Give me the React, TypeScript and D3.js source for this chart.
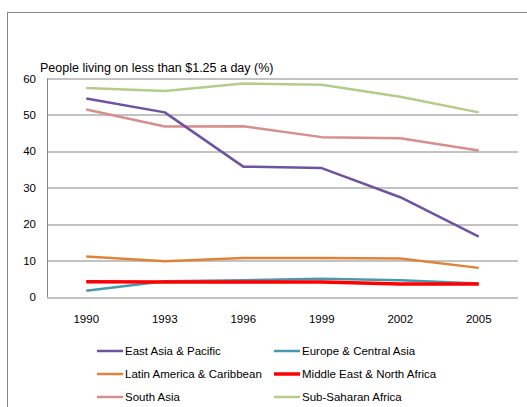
import { useEffect, useRef } from "react";
import * as d3 from "d3";

const years = ["1990", "1993", "1996", "1999", "2002", "2005"];
const yTicks = [0, 10, 20, 30, 40, 50, 60];

const eastAsia = [54.5, 50.7, 35.8, 35.4, 27.4, 16.6];
const europe = [1.7, 4.3, 4.6, 5.0, 4.6, 3.7];
const latinAmerica = [11.1, 9.8, 10.7, 10.7, 10.6, 8.0];
const middleEast = [4.2, 4.1, 4.1, 4.1, 3.6, 3.6];
const southAsia = [51.5, 46.8, 46.9, 43.9, 43.6, 40.2];
const subSaharan = [57.4, 56.6, 58.6, 58.3, 55.0, 50.7];

const seriesNames = [
  "East Asia & Pacific",
  "Europe & Central Asia",
  "Latin America & Caribbean",
  "Middle East & North Africa",
  "South Asia",
  "Sub-Saharan Africa",
];

type S = { name: string; color: string; width: number; values: number[] };

const series: S[] = [
  { name: seriesNames[0], color: "#6e54a0", width: 2.5, values: eastAsia },
  { name: seriesNames[1], color: "#4799ae", width: 2.5, values: europe },
  { name: seriesNames[2], color: "#df8339", width: 2.5, values: latinAmerica },
  { name: seriesNames[3], color: "#ff0000", width: 3.5, values: middleEast },
  { name: seriesNames[4], color: "#d68f8d", width: 2.5, values: southAsia },
  { name: seriesNames[5], color: "#b3cd89", width: 2.5, values: subSaharan },
];

// draw order: keep red on top of teal like the original
const drawOrder = [5, 4, 0, 2, 1, 3];

export default function App() {
  const ref = useRef<SVGSVGElement | null>(null);

  useEffect(() => {
    const svg = d3.select(ref.current);
    svg.selectAll("*").remove();

    const W = 527;
    const H = 407;
    const margin = { top: 78.5, left: 47, right: 9, bottom: 110 };
    const innerW = W - margin.left - margin.right;
    const innerH = H - margin.top - margin.bottom;
    const font = "'Liberation Sans', Arial, sans-serif";

    // outer frame (extends past the window, like the screenshot)
    svg
      .append("rect")
      .attr("x", 7.5)
      .attr("y", 12.5)
      .attr("width", W + 20)
      .attr("height", H + 20)
      .attr("fill", "none")
      .attr("stroke", "#868686")
      .attr("stroke-width", 1);

    const g = svg
      .append("g")
      .attr("transform", `translate(${margin.left},${margin.top})`);

    const x = d3.scaleBand<string>().domain(years).range([0, innerW]);
    const y = d3.scaleLinear().domain([0, 60]).range([innerH, 0]);

    // gridlines
    g.append("g")
      .selectAll("line")
      .data(yTicks)
      .enter()
      .append("line")
      .attr("x1", 0)
      .attr("x2", innerW)
      .attr("y1", (d) => Math.round(y(d)) + 0.5)
      .attr("y2", (d) => Math.round(y(d)) + 0.5)
      .attr("stroke", "#868686")
      .attr("stroke-width", 1);

    g.append("line")
      .attr("x1", 0.5)
      .attr("x2", 0.5)
      .attr("y1", 0)
      .attr("y2", innerH)
      .attr("stroke", "#868686");

    // y labels
    g.append("g")
      .selectAll("text")
      .data(yTicks)
      .enter()
      .append("text")
      .attr("x", -11)
      .attr("y", (d) => y(d) + 4)
      .attr("text-anchor", "end")
      .attr("font-family", font)
      .attr("font-size", 11.5)
      .attr("fill", "#000")
      .text((d) => d);

    // x labels
    g.append("g")
      .selectAll("text")
      .data(years)
      .enter()
      .append("text")
      .attr("x", (d) => x(d)! + x.bandwidth() / 2)
      .attr("y", innerH + 26)
      .attr("text-anchor", "middle")
      .attr("font-family", font)
      .attr("font-size", 11.5)
      .attr("fill", "#000")
      .text((d) => d);

    // title
    svg
      .append("text")
      .attr("x", 40)
      .attr("y", 72)
      .attr("font-family", font)
      .attr("font-size", 12.5)
      .attr("fill", "#000")
      .text("People living on less than $1.25 a day (%)");

    const line = d3
      .line<number>()
      .x((_, i) => x(years[i])! + x.bandwidth() / 2)
      .y((d) => y(d));

    drawOrder.forEach((k) => {
      const s = series[k];
      g.append("path")
        .datum(s.values)
        .attr("fill", "none")
        .attr("stroke", s.color)
        .attr("stroke-width", s.width)
        .attr("stroke-linejoin", "round")
        .attr("d", line);
    });

    // legend
    const legend = svg.append("g");
    series.forEach((s, i) => {
      const col = i % 2;
      const row = Math.floor(i / 2);
      const lx = col === 0 ? 97 : 274;
      const ly = 351 + row * 23;
      legend
        .append("line")
        .attr("x1", lx)
        .attr("x2", lx + 26)
        .attr("y1", ly)
        .attr("y2", ly)
        .attr("stroke", s.color)
        .attr("stroke-width", s.width);
      legend
        .append("text")
        .attr("x", lx + 28)
        .attr("y", ly + 4)
        .attr("font-family", font)
        .attr("font-size", 11.5)
        .attr("fill", "#000")
        .text(s.name);
    });
  }, []);

  return (
    <svg
      ref={ref}
      width={527}
      height={407}
      style={{ position: "absolute", left: 0, top: 0, display: "block" }}
    />
  );
}
